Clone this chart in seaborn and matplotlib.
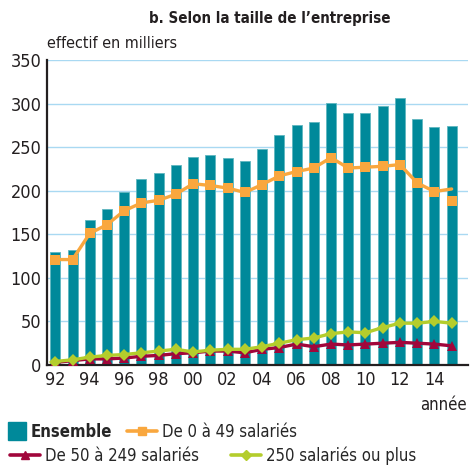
import numpy as np
import pandas as pd
import seaborn as sns
import matplotlib.pyplot as plt
from matplotlib.lines import Line2D

annees = list(range(1992, 2016))
ensemble = [130, 132, 166, 179, 199, 213, 220, 230, 239, 241, 238, 234,
            248, 264, 275, 279, 301, 289, 289, 297, 306, 282, 273, 274]
de_0_49 = [121, 121, 151, 161, 177, 186, 189, 196, 208, 206, 203, 198,
           207, 217, 222, 226, 238, 226, 227, 228, 230, 209, 199, 202]
de_0_49_rupture = [188]  # nouvelle série 2015
de_50_249 = [3, 5, 7, 7, 8, 10, 11, 13, 14, 16, 16, 14,
             18, 20, 24, 21, 24, 23, 24, 25, 26, 25, 24, 22]
plus_250 = [4, 6, 9, 11, 12, 14, 16, 18, 15, 17, 18, 18,
            21, 25, 29, 31, 36, 38, 37, 43, 48, 48, 50, 48]
ticks_x = list(range(1992, 2016, 2))
ticks_lab = [f"{a % 100:02d}" for a in ticks_x]

teal = "#00899A"
orange = "#F9A73E"
rouge = "#A1063B"
vert = "#B4CD2C"
grille = "#A9D9F2"
texte = "#231F20"

df = pd.DataFrame({"annee": annees, "Ensemble": ensemble, "0-49": de_0_49,
                   "50-249": de_50_249, "250+": plus_250})

sns.set_theme(style="white")
plt.rcParams["font.family"] = ["DejaVu Sans"]
plt.rcParams["font.stretch"] = "condensed"

fig = plt.figure(figsize=(4.70, 4.65), dpi=100)
ax = fig.add_axes([47 / 470, 1 - 365 / 465, 421 / 470, 305 / 465])

sns.barplot(data=df, x="annee", y="Ensemble", native_scale=True, color=teal,
            width=0.58, saturation=1, edgecolor="#5FB6C0", linewidth=0.6, ax=ax, zorder=2)
# le dernier point de la série 0-49 n'a pas de marqueur (rupture de série)
sns.lineplot(data=df, x="annee", y="0-49", color=orange, lw=2.4, marker="s",
             markersize=7, markeredgewidth=0, markevery=list(range(len(annees) - 1)),
             ax=ax, zorder=4)
ax.plot(annees[-1:], de_0_49_rupture, ls="none", marker="s", color=orange,
        ms=7, mew=0, zorder=5)
sns.lineplot(data=df, x="annee", y="50-249", color=rouge, lw=2.4, marker="^",
             markersize=7, markeredgewidth=0, ax=ax, zorder=5)
sns.lineplot(data=df, x="annee", y="250+", color=vert, lw=2.4, marker="D",
             markersize=6, markeredgewidth=0, ax=ax, zorder=6)

ax.set_xlim(1991.52, 2015.95)
ax.set_ylim(0, 350)
ax.set_yticks(range(0, 351, 50))
ax.set_xticks(ticks_x)
ax.set_xticklabels(ticks_lab)
ax.tick_params(axis="both", labelsize=13, colors=texte, length=0, pad=4)
ax.yaxis.grid(True, color=grille, lw=1)
ax.set_axisbelow(True)
ax.set_xlabel("")
ax.set_ylabel("")
for s in ["top", "right"]:
    ax.spines[s].set_visible(False)
for s in ["left", "bottom"]:
    ax.spines[s].set_color(texte)
    ax.spines[s].set_linewidth(1.6)

fig.text(270 / 470, 1 - 18 / 465, "b. Selon la taille de l\u2019entreprise",
         ha="center", va="center", fontsize=10.8, fontweight="bold", color=texte)
fig.text(47 / 470, 1 - 44 / 465, "effectif en milliers", ha="left", va="center",
         fontsize=11.5, color=texte)
fig.text(467 / 470, 1 - 405 / 465, "année", ha="right", va="center",
         fontsize=12, color=texte)

# légende : deux lignes non alignées, une légende par entrée
entrees = [
    (Line2D([], [], color=teal, lw=0, marker="s", ms=13), "Ensemble", 9, 432, 1.0),
    (Line2D([], [], color=orange, lw=2.6, marker="s", ms=6), "De 0 à 49 salariés", 127, 432, 1.8),
    (Line2D([], [], color=rouge, lw=2.6, marker="^", ms=6), "De 50 à 249 salariés", 10, 456, 1.8),
    (Line2D([], [], color=vert, lw=2.6, marker="D", ms=5), "250 salariés ou plus", 231, 456, 1.8),
]
for poignee, etiquette, x0, y0, hl in entrees:
    leg = fig.legend([poignee], [etiquette], loc="center left",
                     bbox_to_anchor=(x0 / 470, 1 - y0 / 465), frameon=False,
                     fontsize=12, handlelength=hl, handletextpad=0.3,
                     borderaxespad=0, borderpad=0)
    if etiquette == "Ensemble":
        leg.get_texts()[0].set_fontweight("bold")

fig.savefig("out.png", dpi=100)
